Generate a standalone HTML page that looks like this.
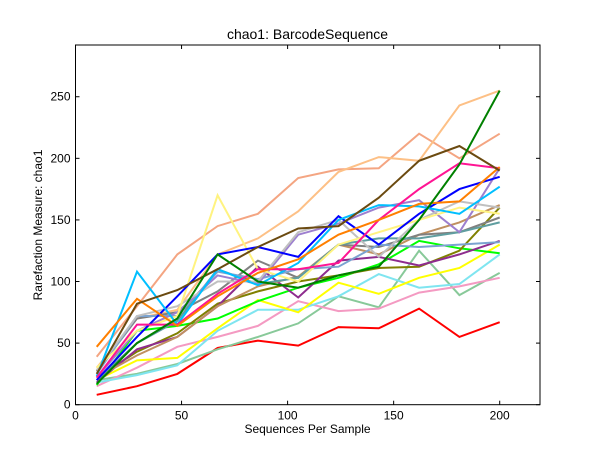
<!DOCTYPE html>
<html><head><meta charset="utf-8"><style>
html,body{margin:0;padding:0;background:#fff;}
svg text{font-family:"Liberation Sans","DejaVu Sans",sans-serif;}
</style></head><body>
<svg id="chart" width="600" height="450" xmlns="http://www.w3.org/2000/svg">
<rect width="600" height="450" fill="#fff"/>
<text x="307.5" y="39" text-anchor="middle" font-size="14">chao1: BarcodeSequence</text>
<text x="307.5" y="433" text-anchor="middle" font-size="12">Sequences Per Sample</text>
<text x="0" y="0" transform="translate(42,225) rotate(-90)" text-anchor="middle" font-size="12">Rarefaction Measure: chao1</text>
<g id="series"></g>
<g id="axes"></g>
</svg>
<script>
const xs = [10,29,48,67,86,105,124,143,162,181,200];
const xTicks = [0,50,100,150,200];
const yTicks = [0,50,100,150,200,250];
const seriesColors = ["#f4a582","#fdc086","#ff0000","#88c999","#f49ac2","#7fe5f0","#ffff00","#00ff00","#808000","#8e2c8e","#c09060","#808080","#5f9ea0","#7ba3d0","#9d7fcf","#c0c0c0","#fff380","#0000ff","#00bfff","#ff1493","#ff7f00","#6b4a10","#008000"];
const s0 = [39,80,122,145,155,184,191,192,220,200,220];
const s1 = [30,70,77,122,135,157,189,201,198,243,255];
const s2 = [8,15,25,46,52,48,63,62,78,55,67];
const s3 = [20,25,33,45,55,66,88,79,125,89,107];
const s4 = [15,30,47,55,64,84,76,78,91,96,103];
const s5 = [18,24,32,60,77,77,88,106,95,98,122];
const s6 = [20,36,38,62,85,75,99,90,103,111,130];
const s7 = [16,60,64,70,84,95,103,114,133,127,123];
const s8 = [22,43,58,82,92,100,105,111,112,125,160];
const s9 = [18,45,55,80,112,87,117,120,113,122,133];
const s10 = [22,40,55,80,96,104,130,122,138,148,162];
const s11 = [27,70,75,92,117,103,130,128,138,140,152];
const s12 = [20,50,68,110,98,103,130,135,135,140,148];
const s13 = [25,72,72,108,102,110,112,130,128,130,132];
const s14 = [22,60,75,105,98,138,147,160,166,140,192];
const s15 = [28,72,80,100,100,140,150,120,150,165,160];
const s16 = [30,60,72,170,110,100,130,140,150,160,155];
const s17 = [20,55,88,122,128,120,153,130,155,175,185];
const s18 = [23,108,65,110,97,115,150,162,161,155,177];
const s19 = [22,65,65,90,110,110,115,150,175,196,192];
const s20 = [47,86,64,88,107,118,138,150,163,165,193];
const s21 = [25,82,93,110,128,143,145,168,198,210,190];
const s22 = [17,50,70,122,100,95,105,112,150,195,255];
const allSeries = [s0,s1,s2,s3,s4,s5,s6,s7,s8,s9,s10,s11,s12,s13,s14,s15,s16,s17,s18,s19,s20,s21,s22];

const L=75.5, R=540, T=45, B=404.7;
const xMin=0, xMax=219, yMin=0, yMax=292;
function xScale(v){return L+(v-xMin)/(xMax-xMin)*(R-L);}
function yScale(v){return B-(v-yMin)/(yMax-yMin)*(B-T);}
const NS="http://www.w3.org/2000/svg";
const sg=document.getElementById('series');
allSeries.forEach((s,i)=>{
  const p=document.createElementNS(NS,'polyline');
  p.setAttribute('points', s.map((v,j)=>xScale(xs[j]).toFixed(1)+','+yScale(v).toFixed(1)).join(' '));
  p.setAttribute('fill','none');
  p.setAttribute('stroke',seriesColors[i%seriesColors.length]);
  p.setAttribute('stroke-width','2');
  p.setAttribute('stroke-linejoin','miter');
  
  
  sg.appendChild(p);
});
const ag=document.getElementById('axes');
const frame=document.createElementNS(NS,'rect');
frame.setAttribute('x',L);frame.setAttribute('y',T);
frame.setAttribute('width',R-L);frame.setAttribute('height',B-T);
frame.setAttribute('fill','none');frame.setAttribute('stroke','#000');frame.setAttribute('stroke-width','1');


ag.appendChild(frame);
xTicks.forEach(t=>{
  const x=xScale(t);
  const l=document.createElementNS(NS,'line');
  l.setAttribute('x1',x);l.setAttribute('x2',x);l.setAttribute('y1',B);l.setAttribute('y2',B-4);
  l.setAttribute('stroke','#000');
  
  
  ag.appendChild(l);
  const l2=document.createElementNS(NS,'line');
  l2.setAttribute('x1',x);l2.setAttribute('x2',x);l2.setAttribute('y1',T);l2.setAttribute('y2',T+4);
  l2.setAttribute('stroke','#000');
  
  
  ag.appendChild(l2);
  const tx=document.createElementNS(NS,'text');
  tx.setAttribute('x',x);tx.setAttribute('y',B+15);tx.setAttribute('text-anchor','middle');tx.setAttribute('font-size','12');
  tx.textContent=t;
  
  
  ag.appendChild(tx);
});
yTicks.forEach(t=>{
  const y=yScale(t);
  const l=document.createElementNS(NS,'line');
  l.setAttribute('x1',L);l.setAttribute('x2',L+4);l.setAttribute('y1',y);l.setAttribute('y2',y);
  l.setAttribute('stroke','#000');
  
  
  ag.appendChild(l);
  const l2=document.createElementNS(NS,'line');
  l2.setAttribute('x1',R);l2.setAttribute('x2',R-4);l2.setAttribute('y1',y);l2.setAttribute('y2',y);
  l2.setAttribute('stroke','#000');
  
  
  ag.appendChild(l2);
  const tx=document.createElementNS(NS,'text');
  tx.setAttribute('x',L-5);tx.setAttribute('y',y+4);tx.setAttribute('text-anchor','end');tx.setAttribute('font-size','12');
  tx.textContent=t;
  
  
  ag.appendChild(tx);
});
</script>
</body></html>
